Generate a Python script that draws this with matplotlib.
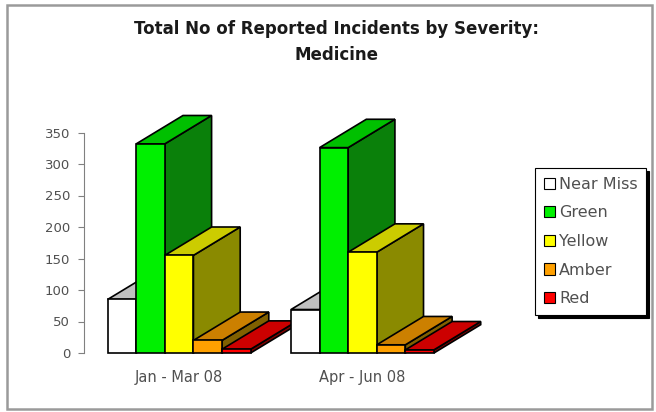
import matplotlib
matplotlib.use('agg')
import matplotlib.pyplot as plt
from matplotlib.patches import Polygon, Patch, Rectangle

# incident counts per quarter, one list per severity
quarters = ['Jan - Mar 08', 'Apr - Jun 08']
severities = ['Near Miss', 'Green', 'Yellow', 'Amber', 'Red']
near_miss = [85, 69]
green = [332, 326]
yellow = [155, 160]
amber = [20, 13]
red = [6, 5]
yticks = [0, 50, 100, 150, 200, 250, 300, 350]

# front / top / side shades for each severity
front_cols = ['#ffffff', '#00f000', '#ffff00', '#ffa000', '#ff0000']
top_cols = ['#c0c0c0', '#00c000', '#cccc00', '#cc8000', '#cc0000']
side_cols = ['#808080', '#0a800a', '#8a8a00', '#806000', '#800000']

series = [near_miss, green, yellow, amber, red]

fig = plt.figure(figsize=(6.56, 4.12), dpi=100)
fig.patch.set_facecolor('white')

# outer chart frame
fig.patches.append(Rectangle((7 / 656, 3 / 412), 645 / 656, 404 / 412,
                             transform=fig.transFigure, fill=False,
                             edgecolor='#9a9a9a', linewidth=1.8))

ax = fig.add_axes([84 / 656, 59 / 412, 376 / 656, 220.5 / 412])
ax.set_xlim(-0.519, 1.532)
ax.set_ylim(0, 350)

bar_w = 0.156
depth_x = 0.255
depth_y = 45

z = 2
for qi in range(len(quarters)):
    for si, vals in enumerate(series):
        x0 = qi + (si - 2.5) * bar_w
        h = vals[qi]
        side = [(x0 + bar_w, 0), (x0 + bar_w + depth_x, depth_y),
                (x0 + bar_w + depth_x, h + depth_y), (x0 + bar_w, h)]
        top = [(x0, h), (x0 + bar_w, h),
               (x0 + bar_w + depth_x, h + depth_y), (x0 + depth_x, h + depth_y)]
        front = [(x0, 0), (x0 + bar_w, 0), (x0 + bar_w, h), (x0, h)]
        for pts, col in ((side, side_cols[si]), (top, top_cols[si]),
                         (front, front_cols[si])):
            ax.add_patch(Polygon(pts, closed=True, facecolor=col,
                                 edgecolor='black', linewidth=1.2,
                                 joinstyle='miter', clip_on=False, zorder=z))
            z += 1

ax.set_yticks(yticks)
ax.set_xticks(range(len(quarters)))
ax.set_xticklabels(quarters, fontsize=10.5, color='#505050')
ax.tick_params(axis='x', length=0, pad=12)
ax.tick_params(axis='y', direction='out', length=4, color='#808080',
               labelsize=9.5, labelcolor='#505050', pad=6)
for s in ['top', 'right', 'bottom']:
    ax.spines[s].set_visible(False)
ax.spines['left'].set_color('#808080')
ax.patch.set_alpha(0)

fig.text(336 / 656, 1 - 42 / 412,
         'Total No of Reported Incidents by Severity:\nMedicine',
         ha='center', va='center', fontsize=12, fontweight='bold',
         color='#1a1a1a', linespacing=1.5)

handles = [Patch(facecolor=c, edgecolor='black', linewidth=0.8)
           for c in front_cols]
leg = fig.legend(handles, severities, loc='upper left',
                 bbox_to_anchor=(535 / 656, 1 - 168 / 412),
                 frameon=True, fancybox=False,
                 shadow={'color': 'black', 'alpha': 1},
                 fontsize=11.5, handlelength=0.7, handleheight=0.7,
                 handletextpad=0.25, labelspacing=0.85, borderpad=0.55,
                 borderaxespad=0)
leg.get_frame().set_edgecolor('black')
leg.get_frame().set_linewidth(0.8)
for t in leg.get_texts():
    t.set_color('#505050')

fig.savefig('out.png', dpi=100, facecolor='white')
